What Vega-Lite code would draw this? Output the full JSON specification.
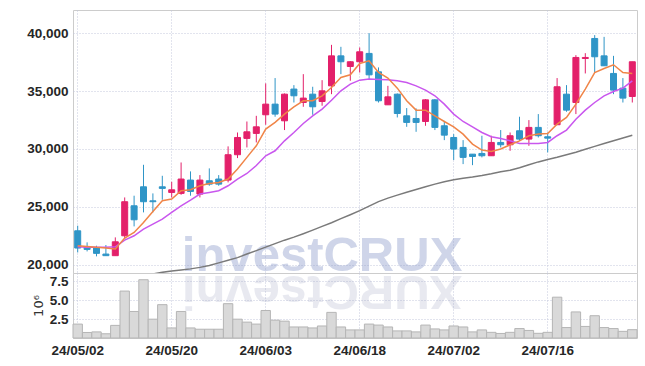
{
  "$schema": "https://vega.github.io/schema/vega-lite/v6.json",
  "autosize": {"type": "pad"},
  "padding": {"left": 26, "top": 9, "right": 9, "bottom": 5},
  "background": "white",
  "bounds": "flush",
  "spacing": 0,
  "config": {
    "view": {"stroke": "#cccccc", "strokeWidth": 1},
    "axis": {
      "labelFont": "Liberation Sans",
      "labelFontSize": 13.5,
      "labelFontWeight": "bold",
      "labelColor": "#262626",
      "ticks": false,
      "domain": false,
      "gridColor": "#c4c8dc",
      "gridDash": [1, 2],
      "gridWidth": 1,
      "labelPadding": 5
    }
  },
  "datasets": {
    "ohlc": [
      {"d":"24/05/02","o":22930,"h":23370,"l":21060,"c":21440,"v":1.84,"m5":21640,"m20":21550,"m120":null},
      {"d":"24/05/03","o":21550,"h":21930,"l":21150,"c":21320,"v":0.73,"m5":21580,"m20":21500,"m120":null},
      {"d":"24/05/07","o":21440,"h":21640,"l":20720,"c":20980,"v":0.81,"m5":21500,"m20":21500,"m120":null},
      {"d":"24/05/08","o":20920,"h":21700,"l":20780,"c":20780,"v":0.56,"m5":21440,"m20":21500,"m120":null},
      {"d":"24/05/09","o":20780,"h":22360,"l":20780,"c":21980,"v":1.67,"m5":21350,"m20":21550,"m120":null},
      {"d":"24/05/10","o":22500,"h":25810,"l":22210,"c":25440,"v":6.21,"m5":22300,"m20":22130,"m120":null},
      {"d":"24/05/13","o":25090,"h":25960,"l":23310,"c":23880,"v":3.51,"m5":22790,"m20":22500,"m120":null},
      {"d":"24/05/14","o":26730,"h":28630,"l":24520,"c":25440,"v":7.71,"m5":23650,"m20":23080,"m120":null},
      {"d":"24/05/16","o":25520,"h":26160,"l":24520,"c":25440,"v":2.49,"m5":24600,"m20":23510,"m120":19200},
      {"d":"24/05/17","o":26730,"h":27680,"l":25610,"c":26590,"v":4.41,"m5":25520,"m20":23940,"m120":19340},
      {"d":"24/05/20","o":26240,"h":27160,"l":25810,"c":26470,"v":1.33,"m5":25670,"m20":24520,"m120":19450},
      {"d":"24/05/21","o":26160,"h":28830,"l":26040,"c":27400,"v":3.51,"m5":26390,"m20":25090,"m120":19540},
      {"d":"24/05/22","o":27310,"h":28060,"l":25960,"c":26330,"v":1.33,"m5":26470,"m20":25580,"m120":19640},
      {"d":"24/05/23","o":26100,"h":27740,"l":25810,"c":27310,"v":1.16,"m5":26820,"m20":26100,"m120":19770},
      {"d":"24/05/24","o":27250,"h":28320,"l":26820,"c":26960,"v":1.16,"m5":27020,"m20":26240,"m120":19940},
      {"d":"24/05/27","o":27400,"h":27740,"l":26820,"c":26960,"v":1.16,"m5":27110,"m20":26390,"m120":20160},
      {"d":"24/05/28","o":27310,"h":30220,"l":27110,"c":29500,"v":4.54,"m5":27400,"m20":26820,"m120":20380},
      {"d":"24/05/29","o":29500,"h":31420,"l":29210,"c":30990,"v":2.49,"m5":28260,"m20":27400,"m120":20610},
      {"d":"24/05/30","o":30910,"h":32370,"l":30130,"c":31480,"v":2.10,"m5":29270,"m20":27880,"m120":20920},
      {"d":"24/05/31","o":31340,"h":32860,"l":30560,"c":31910,"v":1.84,"m5":30270,"m20":28570,"m120":21220},
      {"d":"24/06/03","o":32950,"h":35660,"l":32090,"c":33870,"v":3.64,"m5":31710,"m20":29410,"m120":21520},
      {"d":"24/06/04","o":33870,"h":36120,"l":32780,"c":33010,"v":2.36,"m5":32290,"m20":29840,"m120":21820},
      {"d":"24/06/05","o":32430,"h":34790,"l":31630,"c":34730,"v":2.23,"m5":33010,"m20":30700,"m120":22120},
      {"d":"24/06/07","o":35170,"h":35510,"l":34010,"c":34590,"v":1.46,"m5":33640,"m20":31420,"m120":22380},
      {"d":"24/06/10","o":34010,"h":36460,"l":33640,"c":34390,"v":1.46,"m5":34160,"m20":32200,"m120":22680},
      {"d":"24/06/11","o":34730,"h":35370,"l":32950,"c":33640,"v":1.33,"m5":34160,"m20":32860,"m120":22990},
      {"d":"24/06/12","o":34100,"h":35940,"l":33730,"c":35020,"v":1.59,"m5":34590,"m20":33440,"m120":23310},
      {"d":"24/06/13","o":35450,"h":38990,"l":34730,"c":38040,"v":3.39,"m5":35310,"m20":34210,"m120":23630},
      {"d":"24/06/14","o":38040,"h":38820,"l":36460,"c":37530,"v":1.46,"m5":36170,"m20":35020,"m120":23980},
      {"d":"24/06/17","o":37120,"h":37580,"l":35890,"c":37530,"v":1.07,"m5":36400,"m20":35600,"m120":24320},
      {"d":"24/06/18","o":37530,"h":38760,"l":36600,"c":38390,"v":1.07,"m5":37380,"m20":35940,"m120":24670},
      {"d":"24/06/19","o":38250,"h":40000,"l":36030,"c":36400,"v":1.84,"m5":37610,"m20":36030,"m120":25060},
      {"d":"24/06/20","o":36660,"h":37040,"l":34010,"c":34160,"v":1.71,"m5":36600,"m20":36000,"m120":25450},
      {"d":"24/06/21","o":33810,"h":35450,"l":33810,"c":34500,"v":1.46,"m5":36120,"m20":35970,"m120":25750},
      {"d":"24/06/24","o":34730,"h":34790,"l":32720,"c":33060,"v":0.94,"m5":35250,"m20":35880,"m120":26010},
      {"d":"24/06/25","o":32860,"h":33530,"l":31910,"c":32290,"v":0.94,"m5":34160,"m20":35740,"m120":26260},
      {"d":"24/06/26","o":32630,"h":33500,"l":31480,"c":32290,"v":0.81,"m5":33350,"m20":35450,"m120":26500},
      {"d":"24/06/27","o":32370,"h":34300,"l":32000,"c":34240,"v":1.71,"m5":33350,"m20":35080,"m120":26740},
      {"d":"24/06/28","o":34240,"h":34300,"l":31630,"c":31860,"v":1.20,"m5":32860,"m20":34590,"m120":26960},
      {"d":"24/07/01","o":32000,"h":32430,"l":30760,"c":31190,"v":1.07,"m5":32370,"m20":33870,"m120":27170},
      {"d":"24/07/02","o":30990,"h":31280,"l":29040,"c":29990,"v":1.59,"m5":31910,"m20":33010,"m120":27340},
      {"d":"24/07/03","o":30130,"h":30760,"l":28690,"c":29270,"v":1.46,"m5":31280,"m20":32370,"m120":27470},
      {"d":"24/07/04","o":29550,"h":29550,"l":28600,"c":29350,"v":0.81,"m5":30420,"m20":31910,"m120":27580},
      {"d":"24/07/05","o":29610,"h":31140,"l":29270,"c":29410,"v":1.07,"m5":29900,"m20":31420,"m120":27710},
      {"d":"24/07/08","o":29410,"h":31140,"l":29410,"c":30560,"v":0.75,"m5":29780,"m20":31050,"m120":27860},
      {"d":"24/07/09","o":30560,"h":31630,"l":30130,"c":30360,"v":0.60,"m5":29990,"m20":30900,"m120":28030},
      {"d":"24/07/10","o":30360,"h":31420,"l":29840,"c":31140,"v":0.75,"m5":30360,"m20":30700,"m120":28160},
      {"d":"24/07/11","o":31570,"h":32780,"l":30700,"c":30850,"v":1.25,"m5":30700,"m20":30470,"m120":28380},
      {"d":"24/07/12","o":30850,"h":32490,"l":30270,"c":31860,"v":1.00,"m5":31140,"m20":30470,"m120":28640},
      {"d":"24/07/15","o":31860,"h":33010,"l":30990,"c":31140,"v":0.62,"m5":31280,"m20":30470,"m120":28880},
      {"d":"24/07/16","o":31050,"h":31420,"l":29700,"c":30930,"v":0.75,"m5":31340,"m20":30560,"m120":29090},
      {"d":"24/07/17","o":32090,"h":36120,"l":32090,"c":35370,"v":5.40,"m5":32140,"m20":31140,"m120":29280},
      {"d":"24/07/18","o":34730,"h":35510,"l":33210,"c":33350,"v":1.38,"m5":32720,"m20":31630,"m120":29500},
      {"d":"24/07/19","o":34010,"h":38100,"l":33010,"c":37900,"v":3.45,"m5":33870,"m20":32570,"m120":29720},
      {"d":"24/07/22","o":37810,"h":38270,"l":36520,"c":37900,"v":1.53,"m5":35170,"m20":33350,"m120":29970},
      {"d":"24/07/23","o":39540,"h":39830,"l":36600,"c":37960,"v":2.95,"m5":36600,"m20":34010,"m120":30220},
      {"d":"24/07/24","o":38040,"h":39680,"l":37180,"c":37180,"v":1.38,"m5":36950,"m20":34590,"m120":30470},
      {"d":"24/07/25","o":36520,"h":38040,"l":34730,"c":35080,"v":1.25,"m5":37270,"m20":34960,"m120":30710},
      {"d":"24/07/26","o":35250,"h":36120,"l":34010,"c":34390,"v":0.88,"m5":36600,"m20":35250,"m120":30940},
      {"d":"24/07/29","o":34530,"h":37530,"l":34010,"c":37530,"v":1.10,"m5":36520,"m20":35880,"m120":31180}
    ]
  },
  "resolve": {"scale": {"x": "shared", "y": "independent"}},
  "vconcat": [
    {
      "width": 564,
      "height": 263,
      "data": {"name": "ohlc"},
      "encoding": {
        "x": {
          "field": "d", "type": "ordinal", "sort": null,
          "scale": {"paddingInner": 0, "paddingOuter": 0},
          "axis": {
            "values": ["24/05/02", "24/05/20", "24/06/03", "24/06/18", "24/07/02", "24/07/16"],
            "labels": false, "title": null, "bandPosition": 0.5, "grid": true
          }
        }
      },
      "layer": [
        {
          "mark": {"type": "text", "font": "Liberation Sans", "fontWeight": "bold", "fontSize": 49, "color": "#8898c8", "opacity": 0.395, "align": "center", "baseline": "alphabetic"},
          "encoding": {
            "y": {
              "datum": 19450, "type": "quantitative",
              "scale": {"domain": [19284, 42000], "nice": false, "zero": false},
              "axis": {"values": [20000, 25000, 30000, 35000, 40000], "format": ",d", "title": null, "grid": true}
            },
            "text": {"condition": {"test": "datum.d === '24/06/12'", "value": "investCRUX"}, "value": ""}
          }
        },
        {
          "mark": {"type": "rule", "strokeWidth": 1},
          "encoding": {
            "y": {
              "field": "l", "type": "quantitative",
              "scale": {"domain": [19284, 42000], "nice": false, "zero": false},
              "axis": {"values": [20000, 25000, 30000, 35000, 40000], "format": ",d", "title": null, "grid": true}
            },
            "y2": {"field": "h"},
            "color": {"condition": {"test": "datum.c >= datum.o", "value": "#e3206a"}, "value": "#2f95c7"}
          }
        },
        {
          "mark": {"type": "bar", "size": 6, "strokeWidth": 1},
          "encoding": {
            "y": {"field": "o", "type": "quantitative", "scale": {"domain": [19284, 42000], "nice": false, "zero": false}},
            "y2": {"field": "c"},
            "color": {"condition": {"test": "datum.c >= datum.o", "value": "#e3206a"}, "value": "#2f95c7"},
            "stroke": {"condition": {"test": "datum.c >= datum.o", "value": "#e3206a"}, "value": "#2f95c7"}
          }
        },
        {
          "mark": {"type": "line", "color": "#7a7a7a", "strokeWidth": 1.5, "clip": true},
          "encoding": {
            "y": {"field": "m120", "type": "quantitative", "scale": {"domain": [19284, 42000], "nice": false, "zero": false}}
          }
        },
        {
          "mark": {"type": "line", "color": "#c957ee", "strokeWidth": 1.5, "clip": true},
          "encoding": {
            "y": {"field": "m20", "type": "quantitative", "scale": {"domain": [19284, 42000], "nice": false, "zero": false}}
          }
        },
        {
          "mark": {"type": "line", "color": "#f08548", "strokeWidth": 1.5, "clip": true},
          "encoding": {
            "y": {"field": "m5", "type": "quantitative", "scale": {"domain": [19284, 42000], "nice": false, "zero": false}}
          }
        }
      ]
    },
    {
      "width": 564,
      "height": 65,
      "data": {"name": "ohlc"},
      "encoding": {
        "x": {
          "field": "d", "type": "ordinal", "sort": null,
          "scale": {"paddingInner": 0, "paddingOuter": 0},
          "axis": {
            "values": ["24/05/02", "24/05/20", "24/06/03", "24/06/18", "24/07/02", "24/07/16"],
            "title": null, "bandPosition": 0.5, "grid": true, "labelAngle": 0, "labelPadding": 5
          }
        }
      },
      "layer": [
        {
          "mark": {"type": "text", "angle": 180, "font": "Liberation Sans", "fontWeight": "bold", "fontSize": 49, "color": "#9aa0c0", "opacity": 0.22, "align": "center", "baseline": "alphabetic"},
          "encoding": {
            "y": {
              "datum": 8.25, "type": "quantitative",
              "scale": {"domain": [0, 8.6], "nice": false},
              "axis": {"values": [2.5, 5, 7.5], "format": ".1f", "title": "10⁶", "titleFont": "DejaVu Sans", "titleFontWeight": "normal", "titleFontSize": 13, "titleColor": "#333333", "grid": true}
            },
            "text": {"condition": {"test": "datum.d === '24/06/12'", "value": "XURCtsevni"}, "value": ""}
          }
        },
        {
          "mark": {"type": "bar", "fill": "#d9d9d9", "stroke": "#b5b5b5", "strokeWidth": 1},
          "encoding": {
            "y": {
              "field": "v", "type": "quantitative",
              "scale": {"domain": [0, 8.6], "nice": false},
              "axis": {"values": [2.5, 5, 7.5], "format": ".1f", "title": "10⁶", "titleFont": "DejaVu Sans", "titleFontWeight": "normal", "titleFontSize": 13, "titleColor": "#333333", "grid": true}
            }
          }
        }
      ]
    }
  ]
}
